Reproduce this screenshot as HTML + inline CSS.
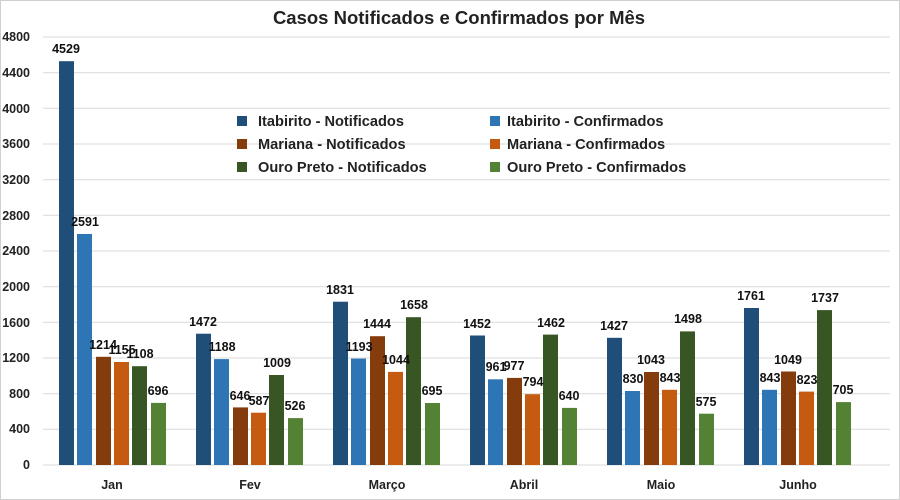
<!DOCTYPE html>
<html><head><meta charset="utf-8"><style>
html,body{margin:0;padding:0;background:#fff}
svg{display:block;font-family:"Liberation Sans",Arial,sans-serif}
</style></head><body>
<svg width="900" height="500" viewBox="0 0 900 500" xmlns="http://www.w3.org/2000/svg">
<rect x="0.5" y="0.5" width="899" height="499" fill="#fff" stroke="#d0d0d0"/>
<text x="459" y="24" text-anchor="middle" font-size="18.5" font-weight="bold" fill="#222">Casos Notificados e Confirmados por Mês</text>
<g stroke="#d9d9d9" stroke-width="1">
<line x1="43" x2="890" y1="465" y2="465"/><line x1="43" x2="890" y1="429.3" y2="429.3"/><line x1="43" x2="890" y1="393.7" y2="393.7"/><line x1="43" x2="890" y1="358" y2="358"/><line x1="43" x2="890" y1="322.3" y2="322.3"/><line x1="43" x2="890" y1="286.7" y2="286.7"/><line x1="43" x2="890" y1="251" y2="251"/><line x1="43" x2="890" y1="215.3" y2="215.3"/><line x1="43" x2="890" y1="179.7" y2="179.7"/><line x1="43" x2="890" y1="144" y2="144"/><line x1="43" x2="890" y1="108.3" y2="108.3"/><line x1="43" x2="890" y1="72.7" y2="72.7"/><line x1="43" x2="890" y1="37" y2="37"/>
</g>
<g font-size="12.5" font-weight="bold" fill="#222" text-anchor="end">
<text x="30" y="469">0</text><text x="30" y="433">400</text><text x="30" y="398">800</text><text x="30" y="362">1200</text><text x="30" y="327">1600</text><text x="30" y="291">2000</text><text x="30" y="255">2400</text><text x="30" y="220">2800</text><text x="30" y="184">3200</text><text x="30" y="148">3600</text><text x="30" y="113">4000</text><text x="30" y="77">4400</text><text x="30" y="41">4800</text>
</g>
<g font-size="12.5" font-weight="bold" fill="#222" text-anchor="middle">
<text x="112" y="489">Jan</text><text x="250" y="489">Fev</text><text x="387" y="489">Março</text><text x="524" y="489">Abril</text><text x="661" y="489">Maio</text><text x="798" y="489">Junho</text>
</g>
<g>
<rect x="59" y="61.2" width="15" height="403.8" fill="#1f4e79"/><rect x="77" y="234" width="15" height="231" fill="#2e75b6"/><rect x="96" y="356.8" width="15" height="108.2" fill="#843c0c"/><rect x="114" y="362" width="15" height="103" fill="#c55a11"/><rect x="132" y="366.2" width="15" height="98.8" fill="#375623"/><rect x="151" y="402.9" width="15" height="62.1" fill="#548235"/>
<rect x="196" y="333.7" width="15" height="131.3" fill="#1f4e79"/><rect x="214" y="359.1" width="15" height="105.9" fill="#2e75b6"/><rect x="233" y="407.4" width="15" height="57.6" fill="#843c0c"/><rect x="251" y="412.7" width="15" height="52.3" fill="#c55a11"/><rect x="269" y="375" width="15" height="90" fill="#375623"/><rect x="288" y="418.1" width="15" height="46.9" fill="#548235"/>
<rect x="333" y="301.7" width="15" height="163.3" fill="#1f4e79"/><rect x="351" y="358.6" width="15" height="106.4" fill="#2e75b6"/><rect x="370" y="336.2" width="15" height="128.8" fill="#843c0c"/><rect x="388" y="371.9" width="15" height="93.1" fill="#c55a11"/><rect x="406" y="317.2" width="15" height="147.8" fill="#375623"/><rect x="425" y="403" width="15" height="62" fill="#548235"/>
<rect x="470" y="335.5" width="15" height="129.5" fill="#1f4e79"/><rect x="488" y="379.3" width="15" height="85.7" fill="#2e75b6"/><rect x="507" y="377.9" width="15" height="87.1" fill="#843c0c"/><rect x="525" y="394.2" width="15" height="70.8" fill="#c55a11"/><rect x="543" y="334.6" width="15" height="130.4" fill="#375623"/><rect x="562" y="407.9" width="15" height="57.1" fill="#548235"/>
<rect x="607" y="337.8" width="15" height="127.2" fill="#1f4e79"/><rect x="625" y="391" width="15" height="74" fill="#2e75b6"/><rect x="644" y="372" width="15" height="93" fill="#843c0c"/><rect x="662" y="389.8" width="15" height="75.2" fill="#c55a11"/><rect x="680" y="331.4" width="15" height="133.6" fill="#375623"/><rect x="699" y="413.7" width="15" height="51.3" fill="#548235"/>
<rect x="744" y="308" width="15" height="157" fill="#1f4e79"/><rect x="762" y="389.8" width="15" height="75.2" fill="#2e75b6"/><rect x="781" y="371.5" width="15" height="93.5" fill="#843c0c"/><rect x="799" y="391.6" width="15" height="73.4" fill="#c55a11"/><rect x="817" y="310.1" width="15" height="154.9" fill="#375623"/><rect x="836" y="402.1" width="15" height="62.9" fill="#548235"/>
</g>
<g font-size="12.5" font-weight="bold" fill="#111" text-anchor="middle">
<text x="66" y="53">4529</text><text x="85" y="226">2591</text><text x="103" y="349">1214</text><text x="122" y="354">1155</text><text x="140" y="358">1108</text><text x="158" y="395">696</text>
<text x="203" y="326">1472</text><text x="222" y="351">1188</text><text x="240" y="400">646</text><text x="259" y="405">587</text><text x="277" y="367">1009</text><text x="295" y="410">526</text>
<text x="340" y="294">1831</text><text x="359" y="351">1193</text><text x="377" y="328">1444</text><text x="396" y="364">1044</text><text x="414" y="309">1658</text><text x="432" y="395">695</text>
<text x="477" y="328">1452</text><text x="496" y="371">961</text><text x="514" y="370">977</text><text x="533" y="386">794</text><text x="551" y="327">1462</text><text x="569" y="400">640</text>
<text x="614" y="330">1427</text><text x="633" y="383">830</text><text x="651" y="364">1043</text><text x="670" y="382">843</text><text x="688" y="323">1498</text><text x="706" y="406">575</text>
<text x="751" y="300">1761</text><text x="770" y="382">843</text><text x="788" y="364">1049</text><text x="807" y="384">823</text><text x="825" y="302">1737</text><text x="843" y="394">705</text>
</g>
<g font-size="14.6" font-weight="bold" fill="#222">
<rect x="237" y="116" width="10" height="10" fill="#1f4e79"/><text x="258" y="126">Itabirito - Notificados</text>
<rect x="237" y="139" width="10" height="10" fill="#843c0c"/><text x="258" y="149">Mariana - Notificados</text>
<rect x="237" y="162" width="10" height="10" fill="#375623"/><text x="258" y="172">Ouro Preto - Notificados</text>
<rect x="490" y="116" width="10" height="10" fill="#2e75b6"/><text x="507" y="126">Itabirito - Confirmados</text>
<rect x="490" y="139" width="10" height="10" fill="#c55a11"/><text x="507" y="149">Mariana - Confirmados</text>
<rect x="490" y="162" width="10" height="10" fill="#548235"/><text x="507" y="172">Ouro Preto - Confirmados</text>
</g>
</svg>
</body></html>
